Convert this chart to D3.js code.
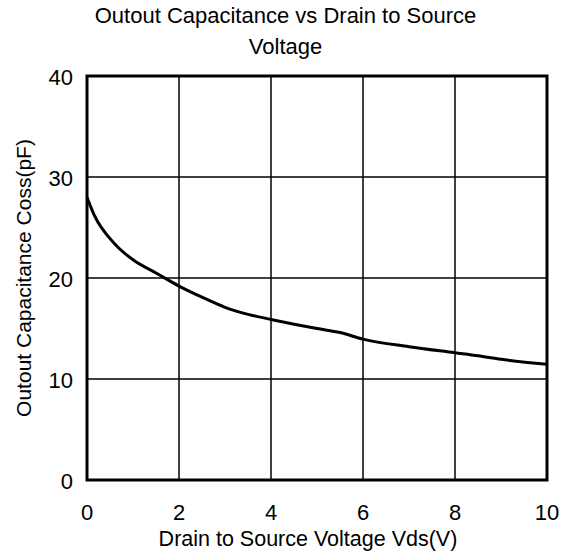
<!DOCTYPE html>
<html>
<head>
<meta charset="utf-8">
<script src="https://cdn.jsdelivr.net/npm/d3@7"></script>
<style>
  html, body { margin: 0; padding: 0; background: #fff; }
  svg { display: block; }
  text { font-family: "Liberation Sans", Arial, sans-serif; fill: #000; }
</style>
</head>
<body>
<svg id="chart" width="571" height="555"></svg>
<script>
const vds = [0, 0.15, 0.6, 1.0, 1.5, 2.0, 2.5, 3.0, 3.5, 4.0, 5.0, 5.5, 6.0, 7.0, 8.0, 8.5, 9.0, 10.0];
const coss = [28.0, 26.3, 23.4, 21.8, 20.5, 19.2, 18.1, 17.1, 16.4, 15.9, 15.0, 14.6, 13.95, 13.2, 12.6, 12.3, 11.95, 11.45];
const xTicks = [0, 2, 4, 6, 8, 10];
const yTicks = [0, 10, 20, 30, 40];
const titleLines = ["Outout Capacitance vs Drain to Source", "Voltage"];
const xLabel = "Drain to Source Voltage Vds(V)";
const yLabel = "Outout Capacitance Coss(pF)";

const svg = d3.select("#chart");
const pL = 87, pR = 547, pT = 76, pB = 480;
const x = d3.scaleLinear().domain([0, 10]).range([pL, pR]);
const y = d3.scaleLinear().domain([0, 40]).range([pB, pT]);

// grid
svg.append("g").selectAll("line").data(xTicks).join("line")
  .attr("x1", d => x(d)).attr("x2", d => x(d))
  .attr("y1", pT).attr("y2", pB)
  .attr("stroke", "#000").attr("stroke-width", 1.5);
svg.append("g").selectAll("line").data(yTicks).join("line")
  .attr("x1", pL).attr("x2", pR)
  .attr("y1", d => y(d)).attr("y2", d => y(d))
  .attr("stroke", "#000").attr("stroke-width", 1.5);

// frame
svg.append("rect").attr("x", pL).attr("y", pT)
  .attr("width", pR - pL).attr("height", pB - pT)
  .attr("fill", "none").attr("stroke", "#000").attr("stroke-width", 3);

// tick labels
svg.append("g").selectAll("text").data(xTicks).join("text")
  .attr("x", d => x(d)).attr("y", 520)
  .attr("text-anchor", "middle").attr("font-size", 22)
  .text(d => d);
svg.append("g").selectAll("text").data(yTicks).join("text")
  .attr("x", 73).attr("y", d => y(d) + 8.5)
  .attr("text-anchor", "end").attr("font-size", 22)
  .text(d => d);

// curve
const line = d3.line().x((d, i) => x(vds[i])).y(d => y(d)).curve(d3.curveMonotoneX);
svg.append("path").datum(coss).attr("d", line)
  .attr("fill", "none").attr("stroke", "#000").attr("stroke-width", 3)
  .attr("stroke-linejoin", "round");

// title
svg.append("g").selectAll("text").data(titleLines).join("text")
  .attr("x", 285.5).attr("y", (d, i) => 23 + i * 31)
  .attr("text-anchor", "middle").attr("font-size", 22)
  .text(d => d);

// axis labels
svg.append("text").attr("x", 308).attr("y", 546)
  .attr("text-anchor", "middle").attr("font-size", 21.5)
  .text(xLabel);
svg.append("text")
  .attr("transform", `translate(31,${(pT + pB) / 2}) rotate(-90)`)
  .attr("text-anchor", "middle").attr("font-size", 21)
  .text(yLabel);
</script>
</body>
</html>
